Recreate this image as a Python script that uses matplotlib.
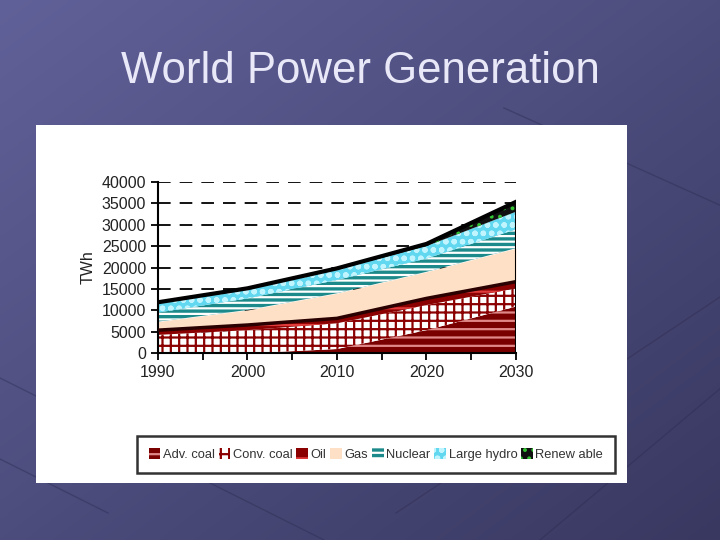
import matplotlib
matplotlib.use("Agg")
import matplotlib.pyplot as plt
import numpy as np
from matplotlib.patches import Rectangle

# values (TWh per source)
years = [1990, 2000, 2010, 2020, 2030]
labels = ['Adv. coal', 'Conv. coal', 'Oil', 'Gas', 'Nuclear', 'Large hydro', 'Renew able']
adv_coal = [0, 0, 1000, 5400, 10900]
conv_coal = [4300, 5400, 6000, 5850, 4250]
oil = [1100, 1200, 1150, 1550, 1550]
gas = [2000, 3500, 5850, 6200, 7800]
nuclear = [2100, 2700, 3100, 3100, 4400]
hydro = [2200, 2100, 2400, 2900, 4100]
renewable = [200, 250, 300, 500, 2300]

plt.rcParams['font.family'] = ['Liberation Sans', 'DejaVu Sans']
plt.rcParams['hatch.linewidth'] = 1.6

fig = plt.figure(figsize=(7.2, 5.4), dpi=100)

# slide background
bg = fig.add_axes([0, 0, 1, 1], zorder=-10)
xx, yy = np.meshgrid(np.linspace(0, 1, 200), np.linspace(0, 1, 200))
t = (xx + yy) / 2
top = np.array([0.38, 0.38, 0.60])
bottom = np.array([0.22, 0.22, 0.38])
img = top[None, None, :] * (1 - t[..., None]) + bottom[None, None, :] * t[..., None]
bg.imshow(img, extent=[0, 1, 0, 1], aspect='auto', origin='upper')
for (x0, y0, x1, y1) in [(0.0, 0.30, 0.45, 0.0), (0.55, 0.05, 1.0, 0.45), (0.0, 0.15, 0.15, 0.05),
                         (0.75, 0.0, 1.0, 0.28), (0.70, 0.80, 1.0, 0.62)]:
    bg.plot([x0, x1], [y0, y1], color='#2a2a50', lw=1.0, alpha=0.4)
bg.set_xlim(0, 1)
bg.set_ylim(0, 1)
bg.axis('off')

fig.text(0.5, 0.868, 'World Power Generation', ha='center', va='center',
         fontsize=31.5, color='#e8e8f8')

# white picture panel
fig.patches.append(Rectangle((36 / 720, 1 - 483 / 540), 591 / 720, 358 / 540,
                             transform=fig.transFigure, facecolor='white',
                             edgecolor='none', zorder=-5))

ax = fig.add_axes([0.2194, 0.3457, 0.4972, 0.3178])
series = [adv_coal, conv_coal, oil, gas, nuclear, hydro, renewable]
faces = ['#7a0000', '#ffffff', '#8b0000', '#fde0c6', '#1c8a8a', '#62d8f0', '#111111']
hatch_cols = ['#e08888', '#8b0000', '#e03a3a', '#fde0c6', '#ffffff', '#c0f4ff', '#33c433']
hatches = ['--', '++', '-', None, '---', 'oo', '..']

polys = ax.stackplot(years, *series, labels=labels, zorder=2)
for p, fc, hc, h in zip(polys, faces, hatch_cols, hatches):
    p.set_facecolor(fc)
    p.set_edgecolor(hc)
    p.set_linewidth(0)
    if h:
        p.set_hatch(h)

cum = np.cumsum(np.array(series), axis=0)
ax.plot(years, cum[2], color='#2a0000', lw=2.5, zorder=3)
ax.plot(years, cum[-1], color='black', lw=3, zorder=3)
ax.vlines(years[-1], 0, cum[-1][-1], color='black', lw=1.5, zorder=3)

ax.set_xlim(1990, 2030)
ax.set_ylim(0, 40000)
ax.set_xticks(years)
ax.set_xticks(range(1990, 2031, 5), minor=True)
ax.set_yticks(range(0, 40001, 5000))
ax.yaxis.grid(True, color='black', lw=1.3, linestyle=(0, (7, 5)))
ax.set_axisbelow(True)
for s in ['top', 'right']:
    ax.spines[s].set_visible(False)
for s in ['left', 'bottom']:
    ax.spines[s].set_linewidth(1.5)
ax.tick_params(which='both', direction='out', length=5, width=1.3, labelsize=11.5,
               labelcolor='#222222')
ax.set_ylabel('TWh', fontsize=11.5, color='#222222', labelpad=4)

leg = fig.legend(*ax.get_legend_handles_labels(), loc='center',
                 bbox_to_anchor=(0.5222, 0.1583), ncol=7, fontsize=9.3,
                 handlelength=0.9, handleheight=0.9, handletextpad=0.2,
                 columnspacing=0.3, borderpad=0.9, fancybox=False)
leg.get_frame().set_edgecolor('black')
leg.get_frame().set_linewidth(1.8)
for txt in leg.get_texts():
    txt.set_color('#333333')

fig.savefig('out.png', dpi=100)
